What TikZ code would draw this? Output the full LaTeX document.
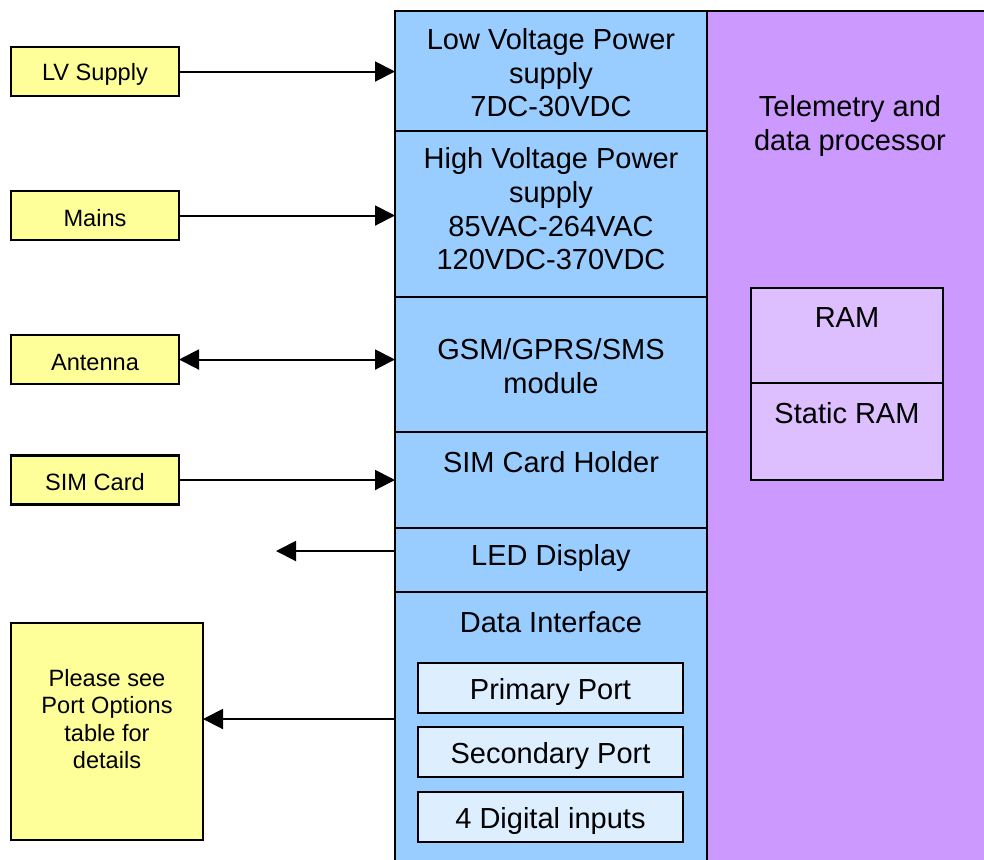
\documentclass[tikz,border=0pt]{standalone}
\usepackage{fontspec}
\setmainfont{Liberation Sans}
\usetikzlibrary{arrows.meta}
\definecolor{bluefill}{HTML}{99CCFF}
\definecolor{purplefill}{HTML}{CC99FF}
\definecolor{yellowfill}{HTML}{FFFF99}
\definecolor{portfill}{HTML}{DDEEFF}
\definecolor{ramfill}{HTML}{DDBFFF}
\tikzset{
  box/.style={draw=black, line width=1.1pt, inner sep=0pt, outer sep=0pt},
  bluebox/.style={box, fill=bluefill, minimum width=156pt},
  ybox/.style={box, fill=yellowfill, minimum width=84pt, minimum height=24.5pt},
  portbox/.style={box, fill=portfill, minimum width=132.5pt, minimum height=25pt},
  rambox/.style={box, fill=ramfill, minimum width=96pt},
  bigtxt/.style={align=center, inner sep=0pt, font=\fontsize{14.5}{16.8}\selectfont},
  smalltxt/.style={align=center, inner sep=0pt, font=\fontsize{11.8}{13.8}\selectfont},
  arr/.style={line width=1pt, -{Triangle[length=10pt,width=10pt]}},
  darr/.style={line width=1pt, {Triangle[length=10pt,width=10pt]}-{Triangle[length=10pt,width=10pt]}},
}
\begin{document}
\begin{tikzpicture}[x=0.5pt, y=-0.5pt]
\clip (0,0) rectangle (984,859);
\fill[white] (0,0) rectangle (984,859);
% purple processor
\node[box, fill=purplefill, minimum width=141.5pt, minimum height=429.5pt, anchor=north west] (proc) at (707,11) {};
\node[bigtxt] (proctxt) at (850,126) {Telemetry and\\data processor};
% RAM
\node[rambox, minimum height=47.5pt, anchor=north west] (ram) at (751,288) {};
\node[rambox, minimum height=48.5pt, anchor=north west] (sram) at (751,383) {};
\node[bigtxt] (ramtxt) at (847,318) {RAM};
\node[bigtxt] (sramtxt) at (847,413) {Static RAM};
% blue column
\node[bluebox, minimum height=60pt, anchor=north west] (lvps) at (395,11) {};
\node[bluebox, minimum height=83pt, anchor=north west] (hvps) at (395,131) {};
\node[bluebox, minimum height=67.5pt, anchor=north west] (gsm) at (395,297) {};
\node[bluebox, minimum height=48pt, anchor=north west] (sim) at (395,432) {};
\node[bluebox, minimum height=32pt, anchor=north west] (led) at (395,528) {};
\node[bluebox, minimum height=140pt, anchor=north west] (data) at (395,592) {};
\node[bigtxt] (lvpstxt) at (551,73) {Low Voltage Power\\supply\\7DC-30VDC};
\node[bigtxt] (hvpstxt) at (551,209) {High Voltage Power\\supply\\85VAC-264VAC\\120VDC-370VDC};
\node[bigtxt] (gsmtxt) at (551,366) {GSM/GPRS/SMS\\module};
\node[bigtxt] (simtxt) at (551,462) {SIM Card Holder};
\node[bigtxt] (ledtxt) at (551,558) {LED Display};
\node[bigtxt] (datatxt) at (551,622) {Data Interface};
% ports
\node[portbox] (pp) at (550.5,688) {};
\node[portbox] (sp) at (550.5,752) {};
\node[portbox] (di) at (550.5,817) {};
\node[bigtxt] (pptxt) at (550.5,692) {Primary Port};
\node[bigtxt] (sptxt) at (550.5,756) {Secondary Port};
\node[bigtxt] (ditxt) at (550.5,821) {4 Digital inputs};
% yellow boxes
\node[ybox] (lv) at (95,71.5) {};
\node[ybox] (mains) at (95,215.5) {};
\node[ybox] (ant) at (95,359.5) {};
\node[ybox] (simc) at (95,480) {};
\node[smalltxt] (lvtxt) at (95,74) {LV Supply};
\node[smalltxt] (mainstxt) at (95,218) {Mains};
\node[smalltxt] (anttxt) at (95,362) {Antenna};
\node[smalltxt] (simctxt) at (95,482) {SIM Card};
\node[box, fill=yellowfill, minimum width=96pt, minimum height=108.5pt, anchor=north west] (pls) at (11,623) {};
\node[smalltxt] (plstxt) at (107,719) {Please see\\Port Options\\table for\\details};
\coordinate (plsin) at (203,719);
\coordinate (ledend) at (276,551);
% connectors
\draw[arr] (lv.east) -- (lv.east -| lvps.west);
\draw[arr] (mains.east) -- (mains.east -| hvps.west);
\draw[darr] (ant.east) -- (ant.east -| gsm.west);
\draw[arr] (simc.east) -- (simc.east -| sim.west);
\draw[arr] (led.west |- ledend) -- (ledend);
\draw[arr] (data.west |- plsin) -- (plsin);
\end{tikzpicture}
\end{document}
